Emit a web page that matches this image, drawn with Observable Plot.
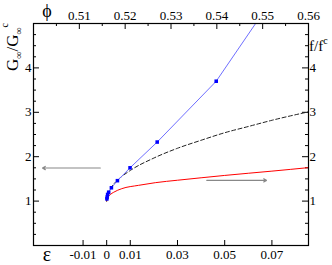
<!DOCTYPE html>
<html><head><meta charset="utf-8">
<script src="https://cdn.jsdelivr.net/npm/d3@7"></script>
<script src="https://cdn.jsdelivr.net/npm/@observablehq/plot@0.6"></script>
<style>body{margin:0;background:#fff}</style>
</head><body><div id="chart"></div>
<script>
// Blue series (points + line), G∞/G∞c vs ε
const blueEps = [0.0001, 0.0002, 0.0004, 0.00085, 0.002, 0.00455, 0.0099, 0.0214, 0.0464];
const blueG   = [1.05, 1.09, 1.15, 1.20, 1.30, 1.46, 1.75, 2.33, 3.70];
const blueEndEps = [0.0631];
const blueEndG   = [5.0];
// Black dashed curve
const dashEps = [0, 0.0005, 0.002, 0.005, 0.01, 0.02, 0.03, 0.04, 0.05, 0.06, 0.07, 0.0855];
const dashG   = [1.0, 1.15, 1.31, 1.49, 1.69, 1.97, 2.19, 2.37, 2.54, 2.68, 2.82, 3.01];
// Red curve (f/f^c)
const redEps = [0, 0.0003, 0.0015, 0.003, 0.0064, 0.0135, 0.0206, 0.03, 0.04, 0.05, 0.06, 0.07, 0.0855];
const redF   = [1.0, 1.06, 1.145, 1.2, 1.28, 1.355, 1.415, 1.47, 1.525, 1.578, 1.627, 1.675, 1.754];
// Arrows
const arrowX1 = [-0.0027, 0.0424];
const arrowX2 = [-0.0272, 0.0677];
const arrowY  = [1.745, 1.467];
// Axes
const epsDomain = [-0.031, 0.0855];
const yDomain = [0, 5];
const epsTicks = [-0.01, 0, 0.01, 0.03, 0.05, 0.07];
const epsLabels = ["-0.01", "0", "0.01", "0.03", "0.05", "0.07"];
const phiDomain = [0.50, 0.56];
const phiTicks = [0.51, 0.52, 0.53, 0.54, 0.55, 0.56];
const phiLabels = ["0.51", "0.52", "0.53", "0.54", "0.55", "0.56"];
const phiMinor = [0.505, 0.515, 0.525, 0.535, 0.545, 0.555];
const yTicks = [1, 2, 3, 4];
const yMinor = [0.25, 0.5, 0.75, 1.25, 1.5, 1.75, 2.25, 2.5, 2.75, 3.25, 3.5, 3.75, 4.25, 4.5, 4.75];

const phiToEps = p => epsDomain[0] + (p - phiDomain[0]) / (phiDomain[1] - phiDomain[0]) * (epsDomain[1] - epsDomain[0]);

const blue = blueEps.map((e, i) => ({e, g: blueG[i]}));
const blueLine = blue.concat(blueEndEps.map((e, i) => ({e, g: blueEndG[i]})));
const dash = dashEps.map((e, i) => ({e, g: dashG[i]}));
const red = redEps.map((e, i) => ({e, g: redF[i]}));
const arrows = arrowX1.map((x1, i) => ({x1, x2: arrowX2[i], y: arrowY[i]}));

const W = 332, H = 265, mL = 33, mR = 24, mT = 23, mB = 20;
const pw = W - mL - mR, ph = H - mT - mB;
const font = "'Liberation Serif', 'Times New Roman', serif";

const plot = Plot.plot({
  width: W, height: H,
  marginLeft: mL, marginRight: mR, marginTop: mT, marginBottom: mB,
  style: {fontFamily: font, fontSize: "13px", background: "#fff", color: "#000", overflow: "visible"},
  x: {domain: epsDomain, axis: null},
  y: {domain: yDomain, axis: null},
  marks: [
    // ticks: left
    Plot.tickY(yTicks, {y: d => d, insetRight: pw - 6, stroke: "#000"}),
    Plot.tickY(yMinor, {y: d => d, insetRight: pw - 3, stroke: "#000"}),
    // right
    Plot.tickY(yTicks, {y: d => d, insetLeft: pw - 6, stroke: "#000"}),
    Plot.tickY(yMinor, {y: d => d, insetLeft: pw - 3, stroke: "#000"}),
    // bottom
    Plot.tickX(epsTicks, {x: d => d, insetTop: ph - 5, stroke: "#000"}),
    // top
    Plot.tickX(phiTicks, {x: phiToEps, insetBottom: ph - 6, stroke: "#000"}),
    Plot.tickX(phiMinor, {x: phiToEps, insetBottom: ph - 3, stroke: "#000"}),
    // tick labels
    Plot.text(yTicks, {y: d => d, text: d => String(d), frameAnchor: "left", textAnchor: "end", dx: -2, fontSize: 13}),
    Plot.text(yTicks, {y: d => d, text: d => String(d), frameAnchor: "right", textAnchor: "start", dx: 1, fontSize: 13}),
    Plot.text(epsTicks, {x: d => d, text: (d, i) => epsLabels[i], frameAnchor: "bottom", lineAnchor: "top", dy: 4, fontSize: 13}),
    Plot.text(phiTicks, {x: phiToEps, text: (d, i) => phiLabels[i], frameAnchor: "top", lineAnchor: "bottom", dy: -4, fontSize: 13}),
    // data
    Plot.line(red, {x: "e", y: "g", stroke: "#ff0000", strokeWidth: 1, curve: "monotone-x"}),
    Plot.line(dash, {x: "e", y: "g", stroke: "#222", strokeWidth: 1, strokeDasharray: "4,2.5", curve: "monotone-x"}),
    Plot.line(blueLine, {x: "e", y: "g", stroke: "#6f6fff", strokeWidth: 1}),
    Plot.dot(blue, {x: "e", y: "g", fill: "#0000ff", r: 2, symbol: "square"}),
    Plot.arrow(arrows, {x1: "x1", x2: "x2", y1: "y", y2: "y", stroke: "#888", strokeWidth: 1.2, headLength: 4}),
    Plot.frame({stroke: "#000", strokeWidth: 1.2})
  ]
});
document.getElementById("chart").appendChild(plot);

const svg = d3.select(plot);
// left axis label
const yl = svg.append("text")
  .attr("transform", "translate(18,47) rotate(-90)")
  .attr("text-anchor", "middle")
  .attr("font-family", font).attr("font-size", 17).attr("fill", "#000");
yl.append("tspan").text("G");
yl.append("tspan").attr("font-size", 10).attr("dy", 4).text("∞");
yl.append("tspan").attr("dy", -4).text("/G");
yl.append("tspan").attr("font-size", 10).attr("dy", 4).text("∞");
yl.append("tspan").attr("font-size", 10).attr("dy", -14).text("c");
// right label
const rl = svg.append("text").attr("x", 309).attr("y", 51)
  .attr("text-anchor", "start")
  .attr("font-family", font).attr("font-size", 15).attr("fill", "#000");
rl.append("tspan").text("f/f");
rl.append("tspan").attr("font-size", 10).attr("dy", -7).text("c");
// phi label
svg.append("text").attr("x", 47).attr("y", 17).attr("text-anchor", "middle")
  .attr("font-family", font).attr("font-size", 18).attr("fill", "#000").text("ϕ");
// epsilon label
svg.append("text").attr("x", 47).attr("y", 261).attr("text-anchor", "middle")
  .attr("font-family", font).attr("font-size", 20).attr("fill", "#000").text("ε");
</script>
</body></html>
